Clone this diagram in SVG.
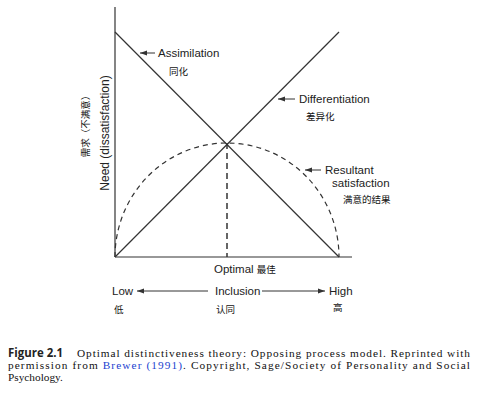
<svg xmlns="http://www.w3.org/2000/svg" width="483" height="393" viewBox="0 0 483 393">
<style>
.ln{stroke:#333;stroke-width:1.2;fill:none}
.dash{stroke:#333;stroke-width:1.2;fill:none;stroke-dasharray:5 4}
.lb{font-family:"Liberation Sans",Arial,sans-serif;font-size:11.5px;fill:#222}
.cj{font-family:"Noto Sans CJK SC","Noto Sans CJK JP",sans-serif;font-size:9.5px;fill:#111}
.cap{font-family:"Liberation Serif","Times New Roman",serif;font-size:11.3px;fill:#111}
.ar{stroke:#333;stroke-width:1;fill:none}
</style>
<defs>
<marker id="ah" viewBox="0 0 10 10" refX="10" refY="5" markerWidth="7" markerHeight="7" orient="auto-start-reverse" markerUnits="userSpaceOnUse">
<path d="M0,1.5 L10,5 L0,8.5 Z" fill="#333"/>
</marker>
</defs>
<rect width="483" height="393" fill="#fff"/>
<g id="axes">
<line class="ln" x1="115" y1="7" x2="115" y2="257"/>
<line class="ln" x1="115" y1="257" x2="352" y2="257"/>
</g>
<g id="connectors">
<line id="assimilation-line" class="ln" x1="115" y1="32" x2="339" y2="257"/>
<line id="differentiation-line" class="ln" x1="115" y1="257" x2="339" y2="32"/>
<path id="satisfaction-curve" class="dash" d="M115,257 A112,114 0 0 1 339,257"/>
<line id="optimal-line" class="dash" x1="227" y1="143" x2="227" y2="257" style="stroke-width:1.5;stroke-dasharray:6 4"/>
<line class="ar" x1="155" y1="53" x2="140" y2="53" marker-end="url(#ah)"/>
<line class="ar" x1="295" y1="99" x2="278" y2="99" marker-end="url(#ah)"/>
<line class="ar" x1="321" y1="170" x2="305" y2="170" marker-end="url(#ah)"/>
<line class="ar" x1="208" y1="291" x2="137" y2="291" marker-end="url(#ah)"/>
<line class="ar" x1="262" y1="291" x2="325" y2="291" marker-end="url(#ah)"/>
</g>
<g id="assimilation">
<text class="lb" x="158" y="57">Assimilation</text>
<text class="cj" x="169" y="75">同化</text>
</g>
<g id="differentiation">
<text class="lb" x="299" y="103">Differentiation</text>
<text class="cj" x="306" y="120">差异化</text>
</g>
<g id="resultant">
<text class="lb" x="325" y="174">Resultant</text>
<text class="lb" x="332" y="187">satisfaction</text>
<text class="cj" x="343" y="203">满意的结果</text>
</g>
<g id="y-label">
<text class="lb" transform="translate(109,133) rotate(-90)" text-anchor="middle" style="font-size:12px">Need (dissatisfaction)</text>
<text class="cj" transform="translate(89,124) rotate(-90)" text-anchor="middle">需求（不满意）</text>
</g>
<g id="optimal">
<text class="lb" x="214" y="273">Optimal <tspan class="cj">最佳</tspan></text>
</g>
<g id="inclusion">
<text class="lb" x="112" y="295">Low</text>
<text class="lb" x="215" y="295">Inclusion</text>
<text class="lb" x="329" y="295">High</text>
<text class="cj" x="114" y="313">低</text>
<text class="cj" x="216" y="313">认同</text>
<text class="cj" x="333" y="311">高</text>
</g>
<g id="caption">
<text x="8" y="356.5" textLength="55" lengthAdjust="spacingAndGlyphs" style="font-family:'Open Sans','Liberation Sans',sans-serif;font-weight:bold;font-size:11.5px;fill:#222">Figure 2.1</text>
<text class="cap" x="77" y="356.5" textLength="393" lengthAdjust="spacing">Optimal distinctiveness theory: Opposing process model. Reprinted with</text>
<text class="cap" x="8" y="368.5" textLength="462" lengthAdjust="spacing">permission from <tspan style="fill:#1a3fd0">Brewer (1991)</tspan>. Copyright, Sage/Society of Personality and Social</text>
<text class="cap" x="8" y="380.5">Psychology.</text>
</g>
</svg>
